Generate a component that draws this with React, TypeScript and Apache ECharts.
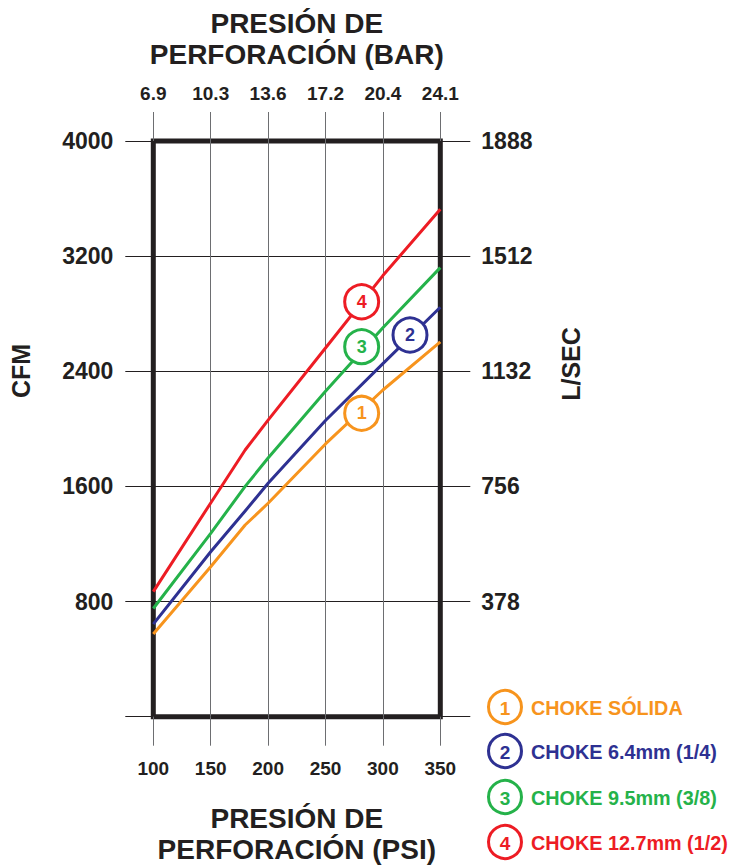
import React, { useEffect, useRef } from "react";
import * as echarts from "echarts";

// ---- axis ticks / labels ----
const psiMin = 100;
const psiMax = 350;
const psiStep = 50;
const barLabels = ["6.9", "10.3", "13.6", "17.2", "20.4", "24.1"];
const cfmMax = 4000;
const cfmStep = 800;
const lsecLabels = ["", "378", "756", "1132", "1512", "1888"];

// ---- series data (PSI -> CFM) ----
const psiPoints = [100, 150, 180, 200, 250, 300, 350];
const chokeSolida = [575, 1042, 1332, 1483, 1895, 2270, 2604];
const choke64 = [643, 1146, 1429, 1622, 2058, 2453, 2845];
const choke95 = [752, 1274, 1600, 1797, 2261, 2702, 3120];
const choke127 = [869, 1485, 1853, 2061, 2562, 3065, 3526];

const seriesNames = ["CHOKE SÓLIDA", "CHOKE 6.4mm (1/4)", "CHOKE 9.5mm (3/8)", "CHOKE 12.7mm (1/2)"];
const seriesNumbers = ["1", "2", "3", "4"];
const seriesColors = ["#f7941d", "#2e3192", "#25b24a", "#ed1c24"];

// numbered badge positions on the curves
const markerPsi = [281.5, 323.6, 281.5, 281.5];
const markerCfm = [2108, 2652, 2571, 2883];

const FONT = '"Liberation Sans", Arial, Helvetica, sans-serif';
const INK = "#231f20";

export default function App() {
  const ref = useRef<HTMLDivElement>(null);

  useEffect(() => {
    if (!ref.current) return;
    const chart = echarts.init(ref.current, undefined, { renderer: "svg" });
    const allValues = [chokeSolida, choke64, choke95, choke127];

    const lineSeries = allValues.map((vals, i) => ({
      name: seriesNames[i],
      type: "line",
      xAxisIndex: 0,
      yAxisIndex: 0,
      data: psiPoints.map((p, j) => [p, vals[j]]),
      symbol: "none",
      smooth: false,
      lineStyle: { color: seriesColors[i], width: 3 },
      itemStyle: { color: seriesColors[i] },
      z: 3,
    }));

    const badgeSeries = seriesNumbers.map((n, i) => ({
      name: "badge" + n,
      type: "scatter",
      xAxisIndex: 0,
      yAxisIndex: 0,
      data: [[markerPsi[i], markerCfm[i]]],
      symbol: "circle",
      symbolSize: 34,
      itemStyle: { color: "#ffffff", borderColor: seriesColors[i], borderWidth: 3, opacity: 1 },
      label: {
        show: true,
        position: "inside",
        formatter: n,
        color: seriesColors[i],
        fontFamily: FONT,
        fontWeight: "bold",
        fontSize: 18,
      },
      z: 5,
    }));

    const legendChildren: any[] = [];
    const legendY = [707, 751, 797, 842];
    seriesNames.forEach((name, i) => {
      legendChildren.push({
        type: "circle",
        shape: { cx: 505, cy: legendY[i], r: 16.5 },
        style: { fill: "#ffffff", stroke: seriesColors[i], lineWidth: 3 },
      });
      legendChildren.push({
        type: "text",
        x: 505,
        y: legendY[i] + 1,
        style: {
          text: seriesNumbers[i],
          fill: seriesColors[i],
          font: `bold 19px ${FONT}`,
          align: "center",
          verticalAlign: "middle",
        },
      });
      legendChildren.push({
        type: "text",
        x: 531,
        y: legendY[i] + 1,
        style: {
          text: name,
          fill: seriesColors[i],
          font: `bold 19.8px ${FONT}`,
          align: "left",
          verticalAlign: "middle",
        },
      });
    });

    const tickFont = { color: INK, fontFamily: FONT, fontWeight: "bold" };

    const option: any = {
      animation: false,
      backgroundColor: "#ffffff",
      grid: {
        left: 153.3,
        right: 288.7,
        top: 141,
        bottom: 148.3,
        show: true,
        borderColor: INK,
        borderWidth: 5,
        backgroundColor: "transparent",
        containLabel: false,
        outerBoundsMode: "none",
      },
      xAxis: [
        {
          type: "value",
          position: "bottom",
          min: psiMin,
          max: psiMax,
          interval: psiStep,
          name: "PRESIÓN DE\nPERFORACIÓN (PSI)",
          nameLocation: "middle",
          nameGap: 86,
          nameTextStyle: { fontFamily: FONT, fontWeight: "bold", fontSize: 28, lineHeight: 31, color: INK },
          axisLine: { show: false, onZero: false },
          axisTick: { show: true, inside: false, length: 29, lineStyle: { color: "#6d6e71", width: 1 } },
          axisLabel: { ...tickFont, margin: 42, fontSize: 19 },
          splitLine: { show: true, showMinLine: false, showMaxLine: false, lineStyle: { color: "#6d6e71", width: 1 } },
        },
        {
          type: "value",
          position: "top",
          min: psiMin,
          max: psiMax,
          interval: psiStep,
          name: "PRESIÓN DE\nPERFORACIÓN (BAR)",
          nameLocation: "middle",
          nameGap: 71,
          nameTextStyle: { fontFamily: FONT, fontWeight: "bold", fontSize: 28, lineHeight: 31, color: INK },
          axisLine: { show: false, onZero: false },
          axisTick: { show: true, inside: false, length: 29, lineStyle: { color: "#6d6e71", width: 1 } },
          axisLabel: {
            ...tickFont,
            margin: 38,
            fontSize: 19,
            formatter: (v: number) => barLabels[Math.round((v - psiMin) / psiStep)] ?? "",
          },
          splitLine: { show: false },
        },
      ],
      yAxis: [
        {
          type: "value",
          position: "left",
          min: 0,
          max: cfmMax,
          interval: cfmStep,
          axisLine: { show: false, onZero: false },
          axisTick: { show: true, inside: false, length: 28, lineStyle: { color: INK, width: 1 } },
          axisLabel: {
            ...tickFont,
            margin: 40,
            fontSize: 23,
            padding: [0, 0, 7, 0],
            formatter: (v: number) => (v === 0 ? "" : String(v)),
          },
          splitLine: { show: true, lineStyle: { color: INK, width: 1 } },
        },
        {
          type: "value",
          position: "right",
          min: 0,
          max: cfmMax,
          interval: cfmStep,
          axisLine: { show: false, onZero: false },
          axisTick: { show: true, inside: false, length: 30, lineStyle: { color: INK, width: 1 } },
          axisLabel: {
            ...tickFont,
            margin: 41,
            fontSize: 23,
            padding: [0, 0, 7, 0],
            formatter: (v: number) => lsecLabels[Math.round(v / cfmStep)] ?? "",
          },
          splitLine: { show: false },
        },
      ],
      graphic: [
        {
          type: "text",
          x: 21,
          y: 371,
          rotation: Math.PI / 2,
          style: {
            text: "CFM",
            fill: INK,
            font: `bold 25px ${FONT}`,
            align: "center",
            verticalAlign: "middle",
          },
        },
        {
          type: "text",
          x: 571,
          y: 364,
          rotation: Math.PI / 2,
          style: {
            text: "L/SEC",
            fill: INK,
            font: `bold 25px ${FONT}`,
            align: "center",
            verticalAlign: "middle",
          },
        },
        { type: "group", children: legendChildren },
      ],
      series: [...lineSeries, ...badgeSeries],
    };

    chart.setOption(option);
    return () => chart.dispose();
  }, []);

  return (
    <div
      ref={ref}
      style={{ position: "fixed", left: 0, top: 0, width: 729, height: 865, background: "#fff" }}
    />
  );
}
